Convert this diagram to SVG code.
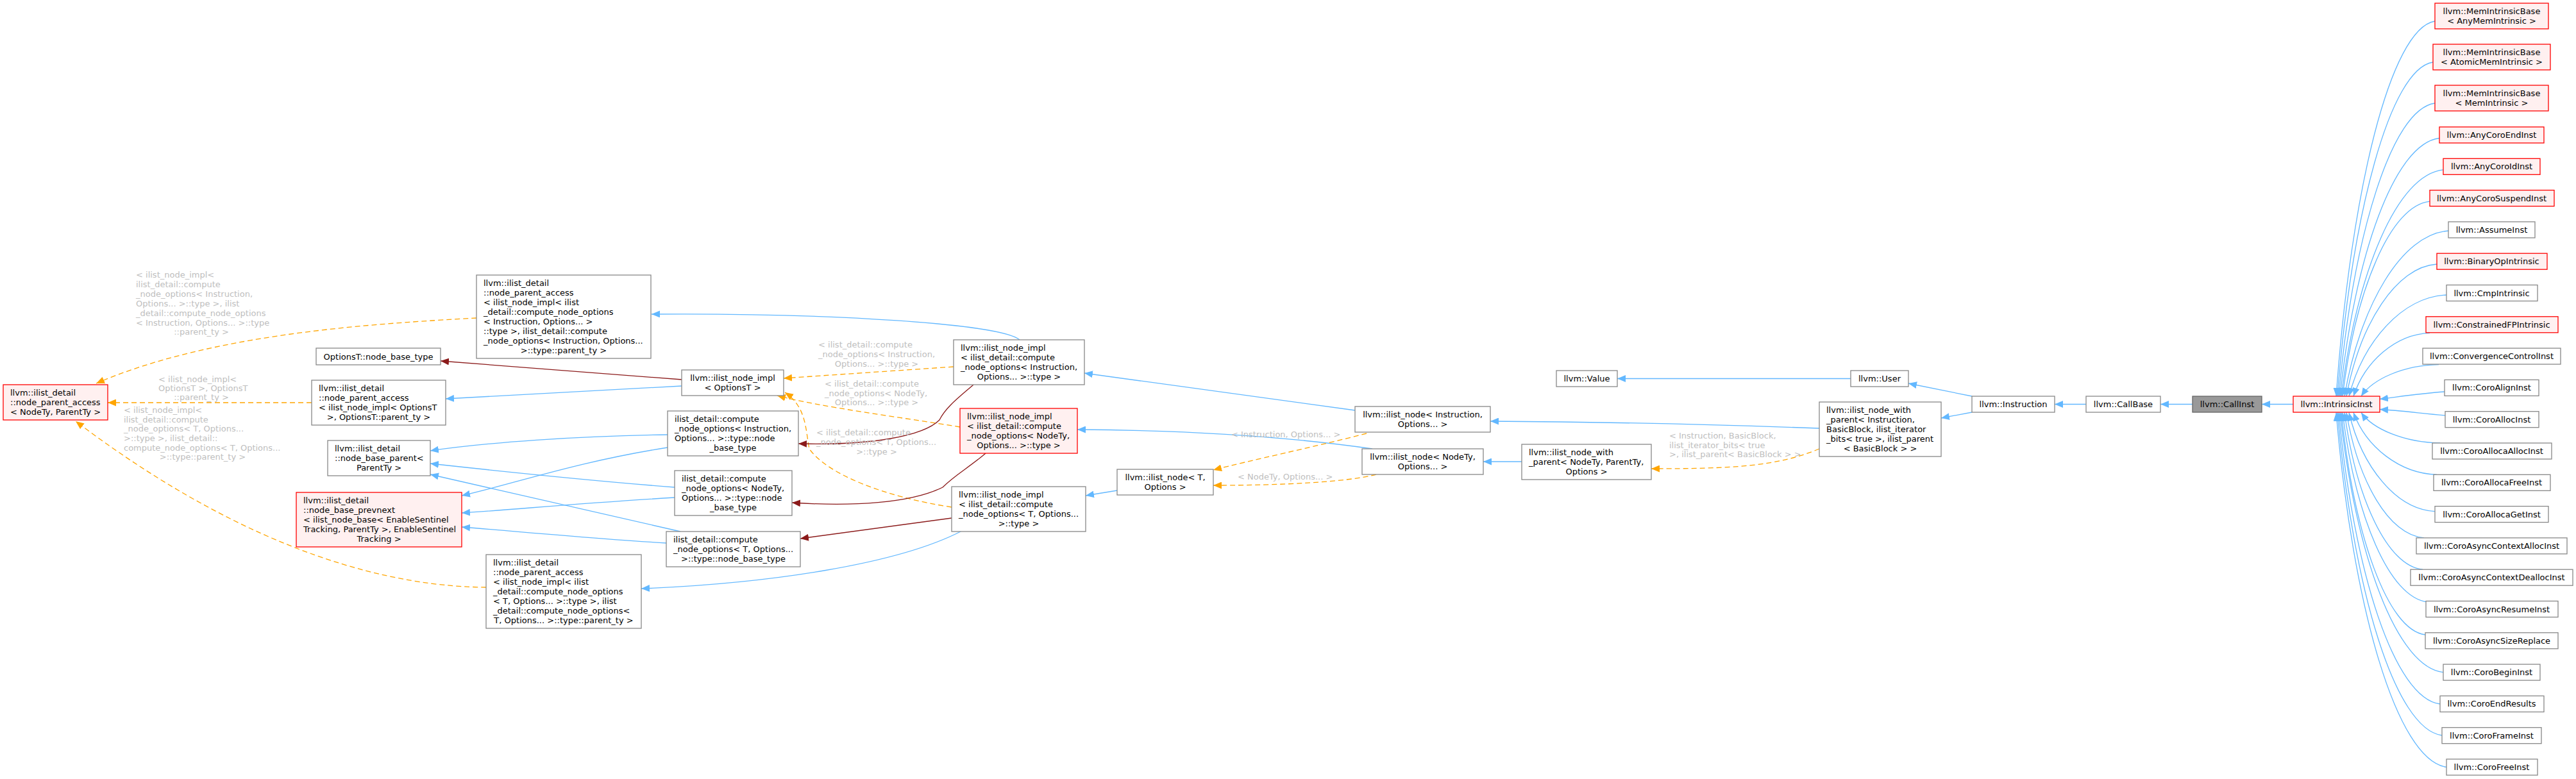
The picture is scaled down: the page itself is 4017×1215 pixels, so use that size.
<svg xmlns="http://www.w3.org/2000/svg" width="4017" height="1215" viewBox="0 0 4017 1215">
<style>
text{font-family:"DejaVu Sans","Liberation Sans",sans-serif;font-size:13px;fill:#000}
.m{text-anchor:middle}
.lbl text{fill:#BEBEBE}
.n rect{fill:#fff;stroke:#888;stroke-width:1.3}
.r rect{fill:#FFF0F0;stroke:#FF0000;stroke-width:1.3}
.c rect{fill:#999;stroke:#666;stroke-width:1.3}
.e path{fill:none;stroke-width:1.3}
.b{stroke:#63B8FF;marker-end:url(#ab)}
.d{stroke:#8B1A1A;marker-end:url(#ad)}
.o{stroke:#FFA500;stroke-dasharray:8,5;marker-end:url(#ao)}
</style>
<defs>
<marker id="ab" markerUnits="userSpaceOnUse" markerWidth="14" markerHeight="11" viewBox="0 0 14 11" refX="13" refY="5.5" orient="auto"><path d="M0,0L13,5.5L0,11z" fill="#63B8FF"/></marker>
<marker id="ad" markerUnits="userSpaceOnUse" markerWidth="14" markerHeight="11" viewBox="0 0 14 11" refX="13" refY="5.5" orient="auto"><path d="M0,0L13,5.5L0,11z" fill="#8B1A1A"/></marker>
<marker id="ao" markerUnits="userSpaceOnUse" markerWidth="14" markerHeight="11" viewBox="0 0 14 11" refX="13" refY="5.5" orient="auto"><path d="M0,0L13,5.5L0,11z" fill="#FFA500"/></marker>
</defs>
<rect width="4017" height="1215" fill="#fff"/>
<g id="connectors" class="e">
<path class="o" d="M743,496 C580,505 330,520 150,598"/>
<path class="o" d="M486,628 L168,628"/>
<path class="o" d="M758,916 C620,915 400,870 118,657"/>
<path class="b" d="M1590,530 C1560,505 1300,488 1016,490"/>
<path class="d" d="M1063,592 L687,563"/>
<path class="b" d="M1063,602 L695,622"/>
<path class="b" d="M1041,678 C900,680 760,690 671,703"/>
<path class="b" d="M1041,698 C900,720 800,755 720,773"/>
<path class="b" d="M1052,760 C900,748 780,735 671,723"/>
<path class="b" d="M1052,776 C900,785 800,795 720,800"/>
<path class="b" d="M1061,829 L671,740"/>
<path class="b" d="M1039,847 C950,842 820,830 720,822"/>
<path class="b" d="M1500,828 C1400,880 1200,910 1000,918"/>
<path class="o" d="M1487,572 L1222,590"/>
<path class="o" d="M1497,666 C1400,650 1280,635 1212,617"/>
<path class="o" d="M1484,791 C1380,775 1290,740 1262,700 C1256,670 1258,635 1224,612"/>
<path class="d" d="M1518,600 C1495,620 1475,635 1465,655 C1440,680 1360,695 1245,692"/>
<path class="d" d="M1537,707 C1510,730 1490,740 1470,760 C1420,785 1330,790 1235,784"/>
<path class="d" d="M1484,808 L1248,840"/>
<path class="b" d="M2113,640 L1691,582"/>
<path class="b" d="M2140,700 C2000,680 1850,671 1680,670"/>
<path class="b" d="M1742,765 L1693,773"/>
<path class="o" d="M2131,676 C2050,697 1950,718 1892,733"/>
<path class="o" d="M2146,740 C2100,752 2000,757 1892,757"/>
<path class="b" d="M2373,720 L2313,720"/>
<path class="b" d="M2837,668 C2700,663 2500,658 2324,657"/>
<path class="o" d="M2837,700 C2770,728 2700,731 2575,731"/>
<path class="b" d="M2886,590.5 L2522,590.5"/>
<path class="b" d="M3075,618 L2976,598"/>
<path class="b" d="M3075,643 L3027,652"/>
<path class="b" d="M3253,630.5 L3204,630.5"/>
<path class="b" d="M3419,630.5 L3369,630.5"/>
<path class="b" d="M3576,630.5 L3527,630.5"/>
<path class="b" d="M3797,33 C3727.7,44.7 3666.1,296.3 3643,618"/>
<path class="b" d="M3794,97 C3727,107.4 3667.4,331.5 3645,618"/>
<path class="b" d="M3797,161 C3729.5,170.1 3669.5,366.7 3647,618"/>
<path class="b" d="M3804,215.5 C3734.3,223.6 3672.3,396.6 3649,618"/>
<path class="b" d="M3810,264.8 C3738.5,271.9 3674.9,423.7 3651,618"/>
<path class="b" d="M3789,314.1 C3727.8,320.2 3673.4,450.9 3653,618"/>
<path class="b" d="M3818,360 C3745.1,365.2 3680.3,476.1 3656,618"/>
<path class="b" d="M3800,412 C3736.6,416.1 3680.2,504.7 3659,618"/>
<path class="b" d="M3815,460 C3746.6,463.2 3685.8,531.1 3663,618"/>
<path class="b" d="M3789,519.3 C3735.5,521.3 3687.9,563.7 3670,618"/>
<path class="b" d="M3803,568.6 C3748.5,569.6 3700.2,590.8 3682,618"/>
<path class="b" d="M3812,611 C3770,614 3740,619 3711,622.5"/>
<path class="b" d="M3813,648 C3770,644 3740,640 3711,638.5"/>
<path class="b" d="M3805,691 C3749.7,690.1 3700.5,669.6 3682,643.5"/>
<path class="b" d="M3800,740.3 C3741.5,738.4 3689.5,696.7 3670,643.5"/>
<path class="b" d="M3797,797.6 C3736.7,794.5 3683.1,728.3 3663,643.5"/>
<path class="b" d="M3780,838.9 C3725.5,835 3677.2,751 3659,643.5"/>
<path class="b" d="M3778,888.2 C3723.1,883.3 3674.3,778.1 3656,643.5"/>
<path class="b" d="M3786,939 C3726.2,933.1 3673,806 3653,643.5"/>
<path class="b" d="M3782,990 C3723,983.1 3670.7,834.1 3651,643.5"/>
<path class="b" d="M3810,1048.6 C3737.5,1040.5 3673.2,866.3 3649,643.5"/>
<path class="b" d="M3805,1098 C3733.9,1088.9 3670.7,893.5 3647,643.5"/>
<path class="b" d="M3808,1147 C3734.7,1136.9 3669.5,920.4 3645,643.5"/>
<path class="b" d="M3815,1196.5 C3737.6,1185.4 3668.8,947.7 3643,643.5"/>
</g>
<g id="edge-labels" class="lbl">
<text x="212" y="432.5">&lt; ilist_node_impl&lt;</text>
<text x="212" y="447.5">ilist_detail::compute</text>
<text x="212" y="462.5">_node_options&lt; Instruction,</text>
<text x="212" y="477.5">Options... &gt;::type &gt;, ilist</text>
<text x="212" y="492.5">_detail::compute_node_options</text>
<text x="212" y="507.5">&lt; Instruction, Options... &gt;::type</text>
<text x="314" y="521.5" class="m">::parent_ty &gt;</text>
<text x="247" y="595.5">&lt; ilist_node_impl&lt;</text>
<text x="247" y="609.5">OptionsT &gt;, OptionsT</text>
<text x="314" y="623.5" class="m">::parent_ty &gt;</text>
<text x="193" y="643.5">&lt; ilist_node_impl&lt;</text>
<text x="193" y="659">ilist_detail::compute</text>
<text x="193" y="673">_node_options&lt; T, Options...</text>
<text x="193" y="688">&gt;::type &gt;, ilist_detail::</text>
<text x="193" y="702.5">compute_node_options&lt; T, Options...</text>
<text x="316" y="717" class="m">&gt;::type::parent_ty &gt;</text>
<text x="1276" y="541.5">&lt; ilist_detail::compute</text>
<text x="1276" y="556.5">_node_options&lt; Instruction,</text>
<text x="1367" y="571.5" class="m">Options... &gt;::type &gt;</text>
<text x="1286" y="602.5">&lt; ilist_detail::compute</text>
<text x="1286" y="617.5">_node_options&lt; NodeTy,</text>
<text x="1367" y="631.5" class="m">Options... &gt;::type &gt;</text>
<text x="1273" y="678.5">&lt; ilist_detail::compute</text>
<text x="1273" y="693.5">_node_options&lt; T, Options...</text>
<text x="1367" y="708.5" class="m">&gt;::type &gt;</text>
<text x="1920" y="681.5">&lt; Instruction, Options... &gt;</text>
<text x="1930" y="747.5">&lt; NodeTy, Options... &gt;</text>
<text x="2603" y="683.5">&lt; Instruction, BasicBlock,</text>
<text x="2603" y="698.5">ilist_iterator_bits&lt; true</text>
<text x="2603" y="713">&gt;, ilist_parent&lt; BasicBlock &gt; &gt;</text>
</g>
<g id="n_npa_nodety" class="r"><rect x="5" y="600" width="163" height="55"/><text x="16" y="617">llvm::ilist_detail</text><text x="16" y="632">::node_parent_access</text><text x="86.5" y="647" class="m">&lt; NodeTy, ParentTy &gt;</text></g>
<g id="n_npa_instr" class="n"><rect x="743" y="429" width="272" height="130"/><text x="754" y="446">llvm::ilist_detail</text><text x="754" y="461">::node_parent_access</text><text x="754" y="476">&lt; ilist_node_impl&lt; ilist</text><text x="754" y="491">_detail::compute_node_options</text><text x="754" y="506">&lt; Instruction, Options... &gt;</text><text x="754" y="521">::type &gt;, ilist_detail::compute</text><text x="754" y="536">_node_options&lt; Instruction, Options...</text><text x="879" y="551" class="m">&gt;::type::parent_ty &gt;</text></g>
<g id="n_optionsT_nbt" class="n"><rect x="493" y="543" width="194" height="26"/><text x="590" y="560.5" class="m">OptionsT::node_base_type</text></g>
<g id="n_npa_optionsT" class="n"><rect x="486" y="593" width="209" height="70"/><text x="497" y="610">llvm::ilist_detail</text><text x="497" y="625">::node_parent_access</text><text x="497" y="640">&lt; ilist_node_impl&lt; OptionsT</text><text x="590.5" y="655" class="m">&gt;, OptionsT::parent_ty &gt;</text></g>
<g id="n_nbp" class="n"><rect x="511" y="687" width="160" height="55"/><text x="522" y="704">llvm::ilist_detail</text><text x="522" y="719">::node_base_parent&lt;</text><text x="591" y="734" class="m">ParentTy &gt;</text></g>
<g id="n_prevnext" class="r"><rect x="462" y="768" width="258" height="85"/><text x="473" y="785">llvm::ilist_detail</text><text x="473" y="800">::node_base_prevnext</text><text x="473" y="815">&lt; ilist_node_base&lt; EnableSentinel</text><text x="473" y="830">Tracking, ParentTy &gt;, EnableSentinel</text><text x="591" y="845" class="m">Tracking &gt;</text></g>
<g id="n_npa_T" class="n"><rect x="758" y="865" width="242" height="115"/><text x="769" y="882">llvm::ilist_detail</text><text x="769" y="897">::node_parent_access</text><text x="769" y="912">&lt; ilist_node_impl&lt; ilist</text><text x="769" y="927">_detail::compute_node_options</text><text x="769" y="942">&lt; T, Options... &gt;::type &gt;, ilist</text><text x="769" y="957">_detail::compute_node_options&lt;</text><text x="879" y="972" class="m">T, Options... &gt;::type::parent_ty &gt;</text></g>
<g id="n_impl_optionsT" class="n"><rect x="1063" y="577" width="159" height="40"/><text x="1142.5" y="594" class="m">llvm::ilist_node_impl</text><text x="1142.5" y="609" class="m">&lt; OptionsT &gt;</text></g>
<g id="n_cno_instr" class="n"><rect x="1041" y="641" width="204" height="70"/><text x="1052" y="658">ilist_detail::compute</text><text x="1052" y="673">_node_options&lt; Instruction,</text><text x="1052" y="688">Options... &gt;::type::node</text><text x="1143" y="703" class="m">_base_type</text></g>
<g id="n_cno_nodety" class="n"><rect x="1052" y="734" width="183" height="70"/><text x="1063" y="751">ilist_detail::compute</text><text x="1063" y="766">_node_options&lt; NodeTy,</text><text x="1063" y="781">Options... &gt;::type::node</text><text x="1143.5" y="796" class="m">_base_type</text></g>
<g id="n_cno_T" class="n"><rect x="1039" y="829" width="209" height="55"/><text x="1050" y="846">ilist_detail::compute</text><text x="1050" y="861">_node_options&lt; T, Options...</text><text x="1143.5" y="876" class="m">&gt;::type::node_base_type</text></g>
<g id="n_impl_instr" class="n"><rect x="1487" y="530" width="204" height="70"/><text x="1498" y="547">llvm::ilist_node_impl</text><text x="1498" y="562">&lt; ilist_detail::compute</text><text x="1498" y="577">_node_options&lt; Instruction,</text><text x="1589" y="592" class="m">Options... &gt;::type &gt;</text></g>
<g id="n_impl_nodety" class="r"><rect x="1497" y="637" width="183" height="70"/><text x="1508" y="654">llvm::ilist_node_impl</text><text x="1508" y="669">&lt; ilist_detail::compute</text><text x="1508" y="684">_node_options&lt; NodeTy,</text><text x="1588.5" y="699" class="m">Options... &gt;::type &gt;</text></g>
<g id="n_impl_T" class="n"><rect x="1484" y="759" width="209" height="70"/><text x="1495" y="776">llvm::ilist_node_impl</text><text x="1495" y="791">&lt; ilist_detail::compute</text><text x="1495" y="806">_node_options&lt; T, Options...</text><text x="1588.5" y="821" class="m">&gt;::type &gt;</text></g>
<g id="n_node_T" class="n"><rect x="1742" y="732" width="150" height="40"/><text x="1817" y="749" class="m">llvm::ilist_node&lt; T,</text><text x="1817" y="764" class="m">Options &gt;</text></g>
<g id="n_node_instr" class="n"><rect x="2113" y="634" width="211" height="40"/><text x="2218.5" y="651" class="m">llvm::ilist_node&lt; Instruction,</text><text x="2218.5" y="666" class="m">Options... &gt;</text></g>
<g id="n_node_nodety" class="n"><rect x="2124" y="700" width="189" height="40"/><text x="2218.5" y="717" class="m">llvm::ilist_node&lt; NodeTy,</text><text x="2218.5" y="732" class="m">Options... &gt;</text></g>
<g id="n_nwp_nodety" class="n"><rect x="2373" y="693" width="202" height="55"/><text x="2384" y="710">llvm::ilist_node_with</text><text x="2384" y="725">_parent&lt; NodeTy, ParentTy,</text><text x="2474" y="740" class="m">Options &gt;</text></g>
<g id="n_value" class="n"><rect x="2427" y="578" width="95" height="25"/><text x="2474.5" y="595" class="m">llvm::Value</text></g>
<g id="n_user" class="n"><rect x="2886" y="578" width="90" height="25"/><text x="2931" y="595" class="m">llvm::User</text></g>
<g id="n_nwp_instr" class="n"><rect x="2837" y="627" width="190" height="85"/><text x="2848" y="644">llvm::ilist_node_with</text><text x="2848" y="659">_parent&lt; Instruction,</text><text x="2848" y="674">BasicBlock, ilist_iterator</text><text x="2848" y="689">_bits&lt; true &gt;, ilist_parent</text><text x="2932" y="704" class="m">&lt; BasicBlock &gt; &gt;</text></g>
<g id="n_instruction" class="n"><rect x="3075" y="618" width="129" height="25"/><text x="3139.5" y="635" class="m">llvm::Instruction</text></g>
<g id="n_callbase" class="n"><rect x="3253" y="618" width="116" height="25"/><text x="3311" y="635" class="m">llvm::CallBase</text></g>
<g id="n_callinst" class="c"><rect x="3419" y="618" width="108" height="25"/><text x="3473" y="635" class="m">llvm::CallInst</text></g>
<g id="n_intrinsic" class="r"><rect x="3576" y="618" width="135" height="25"/><text x="3643.5" y="635" class="m">llvm::IntrinsicInst</text></g>
<g id="c00" class="r"><rect x="3797" y="5" width="177" height="40"/><text x="3885.5" y="22" class="m">llvm::MemIntrinsicBase</text><text x="3885.5" y="37" class="m">&lt; AnyMemIntrinsic &gt;</text></g>
<g id="c01" class="r"><rect x="3794" y="69" width="183" height="40"/><text x="3885.5" y="86" class="m">llvm::MemIntrinsicBase</text><text x="3885.5" y="101" class="m">&lt; AtomicMemIntrinsic &gt;</text></g>
<g id="c02" class="r"><rect x="3797" y="133" width="177" height="40"/><text x="3885.5" y="150" class="m">llvm::MemIntrinsicBase</text><text x="3885.5" y="165" class="m">&lt; MemIntrinsic &gt;</text></g>
<g id="c03" class="r"><rect x="3804" y="198" width="163" height="25"/><text x="3885.5" y="215" class="m">llvm::AnyCoroEndInst</text></g>
<g id="c04" class="r"><rect x="3810" y="247.3" width="151" height="25"/><text x="3885.5" y="264.3" class="m">llvm::AnyCoroIdInst</text></g>
<g id="c05" class="r"><rect x="3789" y="296.6" width="194" height="25"/><text x="3885.5" y="313.6" class="m">llvm::AnyCoroSuspendInst</text></g>
<g id="c06" class="n"><rect x="3818" y="345.9" width="135" height="25"/><text x="3885.5" y="362.9" class="m">llvm::AssumeInst</text></g>
<g id="c07" class="r"><rect x="3800" y="395.2" width="172" height="25"/><text x="3885.5" y="412.2" class="m">llvm::BinaryOpIntrinsic</text></g>
<g id="c08" class="n"><rect x="3815" y="444.5" width="142" height="25"/><text x="3885.5" y="461.5" class="m">llvm::CmpIntrinsic</text></g>
<g id="c09" class="r"><rect x="3783" y="493.8" width="206" height="25"/><text x="3885.5" y="510.8" class="m">llvm::ConstrainedFPIntrinsic</text></g>
<g id="c10" class="n"><rect x="3778" y="543.1" width="215" height="25"/><text x="3885.5" y="560.1" class="m">llvm::ConvergenceControlInst</text></g>
<g id="c11" class="n"><rect x="3812" y="592.4" width="147" height="25"/><text x="3885.5" y="609.4" class="m">llvm::CoroAlignInst</text></g>
<g id="c12" class="n"><rect x="3813" y="641.7" width="146" height="25"/><text x="3885.5" y="658.7" class="m">llvm::CoroAllocInst</text></g>
<g id="c13" class="n"><rect x="3793" y="691" width="186" height="25"/><text x="3885.5" y="708" class="m">llvm::CoroAllocaAllocInst</text></g>
<g id="c14" class="n"><rect x="3795" y="740.3" width="182" height="25"/><text x="3885.5" y="757.3" class="m">llvm::CoroAllocaFreeInst</text></g>
<g id="c15" class="n"><rect x="3797" y="789.6" width="177" height="25"/><text x="3885.5" y="806.6" class="m">llvm::CoroAllocaGetInst</text></g>
<g id="c16" class="n"><rect x="3768" y="838.9" width="235" height="25"/><text x="3885.5" y="855.9" class="m">llvm::CoroAsyncContextAllocInst</text></g>
<g id="c17" class="n"><rect x="3759" y="888.2" width="253" height="25"/><text x="3885.5" y="905.2" class="m">llvm::CoroAsyncContextDeallocInst</text></g>
<g id="c18" class="n"><rect x="3783" y="937.5" width="206" height="25"/><text x="3885.5" y="954.5" class="m">llvm::CoroAsyncResumeInst</text></g>
<g id="c19" class="n"><rect x="3782" y="986.8" width="207" height="25"/><text x="3885.5" y="1003.8" class="m">llvm::CoroAsyncSizeReplace</text></g>
<g id="c20" class="n"><rect x="3810" y="1036.1" width="151" height="25"/><text x="3885.5" y="1053.1" class="m">llvm::CoroBeginInst</text></g>
<g id="c21" class="n"><rect x="3805" y="1085.4" width="162" height="25"/><text x="3885.5" y="1102.4" class="m">llvm::CoroEndResults</text></g>
<g id="c22" class="n"><rect x="3808" y="1134.7" width="155" height="25"/><text x="3885.5" y="1151.7" class="m">llvm::CoroFrameInst</text></g>
<g id="c23" class="n"><rect x="3815" y="1184" width="142" height="25"/><text x="3885.5" y="1201" class="m">llvm::CoroFreeInst</text></g>
</svg>
